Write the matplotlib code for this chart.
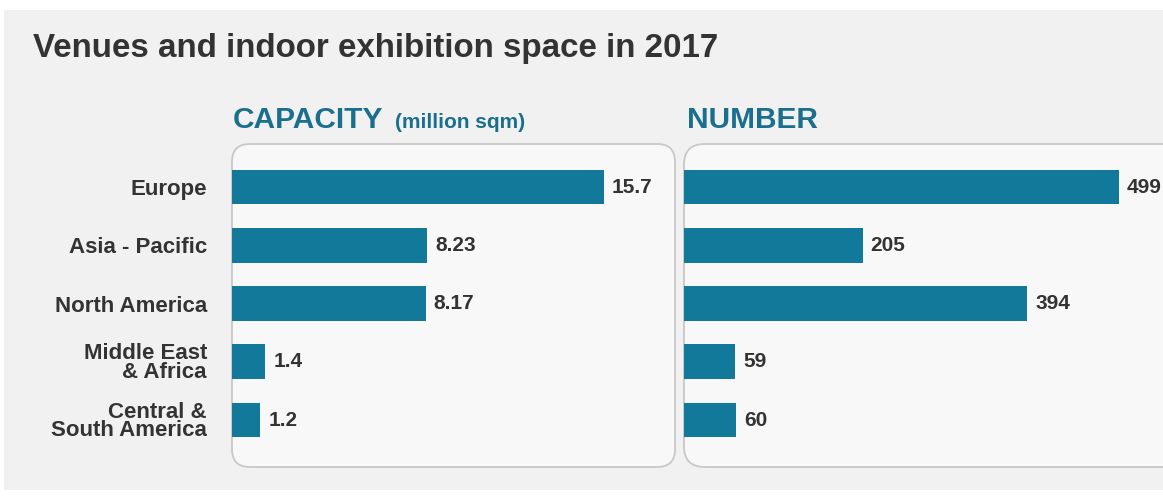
import matplotlib
matplotlib.use("Agg")
import matplotlib.pyplot as plt
from matplotlib.patches import FancyBboxPatch, Rectangle

plt.rcParams['font.family'] = ['Liberation Sans', 'DejaVu Sans']

regions = ['Europe', 'Asia - Pacific', 'North America', 'Middle East\n& Africa', 'Central &\nSouth America']
capacity = [15.7, 8.23, 8.17, 1.4, 1.2]
capacity_labels = ['15.7', '8.23', '8.17', '1.4', '1.2']
number = [499, 205, 394, 59, 60]
number_labels = ['499', '205', '394', '59', '60']

W, H = 1163, 498
bar_color = '#12799b'
text_color = '#333333'
head_color = '#1a6f8d'

fig = plt.figure(figsize=(W / 100, H / 100), dpi=100)
fig.patch.set_facecolor('white')
# light grey backdrop
fig.patches.append(Rectangle((4 / W, 8 / H), 1, 1 - 18 / H, transform=fig.transFigure,
                             facecolor='#f1f1f1', edgecolor='none', zorder=-5))

fig.text(33 / W, 1 - 48 / H, 'Venues and indoor exhibition space in 2017', fontsize=23.9,
         fontweight='bold', color=text_color, va='center', ha='left')

def px_axes(x0, x1, y0, y1):
    return fig.add_axes([x0 / W, 1 - y1 / H, (x1 - x0) / W, (y1 - y0) / H])

def panel(ax, vals, labels, scale_px, width_px, show_names):
    ax.set_facecolor('none')
    for s in ax.spines.values():
        s.set_visible(False)
    box = FancyBboxPatch((0, 0), 1, 1, boxstyle='round,pad=0,rounding_size=0.04',
                         transform=ax.transAxes, facecolor='#f8f8f8', edgecolor='#c8c8c8',
                         linewidth=1.3, clip_on=False, zorder=0, mutation_aspect=width_px / 323)
    ax.add_patch(box)
    ypos = list(range(len(vals)))
    ax.barh(ypos, vals, height=0.6, color=bar_color, zorder=2)
    ax.set_xlim(0, width_px / scale_px)
    ax.set_ylim(4 + 47 / 58.25, -43 / 58.25)
    off = 8 / scale_px
    for y, v, t in zip(ypos, vals, labels):
        ax.text(v + off, y, t, fontsize=15, fontweight='bold', color=text_color,
                va='center', ha='left', zorder=3)
    ax.set_xticks([])
    if show_names:
        ax.set_yticks(ypos)
        ax.set_yticklabels(regions, fontsize=16, fontweight='bold', color=text_color,
                           linespacing=0.85)
        ax.tick_params(axis='y', length=0, pad=18)
    else:
        ax.set_yticks([])

ax1 = px_axes(232, 675, 144, 467)
panel(ax1, capacity, capacity_labels, 372 / 15.7, 443, True)

ax2 = px_axes(684, 1200, 144, 467)
panel(ax2, number, number_labels, 435 / 499, 516, False)

fig.text(233 / W, 1 - 120 / H, 'CAPACITY', fontsize=21.5, fontweight='bold', color=head_color,
         va='center', ha='left')
fig.text(395 / W, 1 - 123 / H, '(million sqm)', fontsize=15, fontweight='bold', color=head_color,
         va='center', ha='left')
fig.text(687 / W, 1 - 120 / H, 'NUMBER', fontsize=21.5, fontweight='bold', color=head_color,
         va='center', ha='left')

fig.savefig('out.png', dpi=100, facecolor=fig.get_facecolor())
